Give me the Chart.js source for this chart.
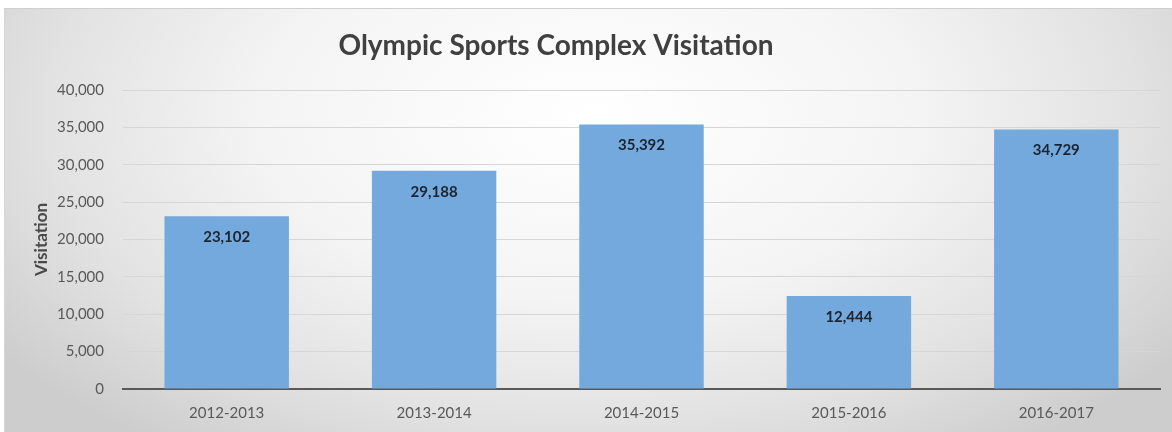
<!DOCTYPE html>
<html>
<head>
<meta charset="utf-8">
<script src="https://cdn.jsdelivr.net/npm/chart.js@4"></script>
<style>
  html, body { margin: 0; padding: 0; background: #ffffff; }
  #frame {
    position: absolute; left: 4px; top: 8px; width: 1172px; height: 430px;
    border-top: 1px solid #cfcfcf; border-left: 1px solid #d6d6d6;
    background: radial-gradient(ellipse 62% 95% at 50% 25%, #ffffff 0%, #f4f4f4 45%, #e2e2e2 75%, #cdcdcd 100%);
  }
  #wrap { position: absolute; left: 0; top: 0; width: 1172px; height: 432px; }
</style>
</head>
<body>
<div id="frame"></div>
<div id="wrap"><canvas id="c" width="1172" height="432"></canvas></div>
<script>
const chartTitle = "Olympic Sports Complex Visitation";
const yAxisTitle = "Visitation";
const categories = ["2012-2013", "2013-2014", "2014-2015", "2015-2016", "2016-2017"];
const visitation = [23102, 29188, 35392, 12444, 34729];
const yMin = 0, yMax = 40000, yStep = 5000;

const FONT = "Lato, 'Open Sans', sans-serif";

const titlePlugin = {
  id: 'customTitle',
  afterDraw(chart) {
    const ctx = chart.ctx;
    ctx.save();
    ctx.font = "bold 28px " + FONT;
    ctx.fillStyle = "#404040";
    ctx.textAlign = "center";
    ctx.textBaseline = "middle";
    ctx.fillText(chartTitle, 556, 46);
    ctx.restore();
  }
};

const labelPlugin = {
  id: 'barLabels',
  afterDatasetsDraw(chart) {
    const ctx = chart.ctx;
    const meta = chart.getDatasetMeta(0);
    ctx.save();
    ctx.font = "bold 15px " + FONT;
    ctx.fillStyle = "#1b2430";
    ctx.textAlign = "center";
    ctx.textBaseline = "middle";
    meta.data.forEach((bar, i) => {
      ctx.fillText(visitation[i].toLocaleString('en-US'), bar.x, bar.y + 21);
    });
    ctx.restore();
  }
};

new Chart(document.getElementById('c'), {
  type: 'bar',
  data: {
    labels: categories,
    datasets: [{
      data: visitation,
      backgroundColor: '#73a9dc',
      borderWidth: 0,
      categoryPercentage: 1,
      barPercentage: 0.6
    }]
  },
  options: {
    responsive: false,
    animation: false,
    devicePixelRatio: 1,
    layout: { padding: { left: 24, right: 12, top: 90, bottom: 0 } },
    plugins: { legend: { display: false }, tooltip: { enabled: false }, title: { display: false } },
    scales: {
      x: {
        grid: { display: false, drawTicks: false },
        border: { display: true, color: '#595959', width: 2 },
        ticks: { color: '#595959', font: { family: FONT, size: 15 }, padding: 15 },
        afterFit(s) { s.height = 432 - 389; }
      },
      y: {
        min: yMin, max: yMax,
        grid: { color: '#d6d6d6', lineWidth: 1, drawTicks: false },
        border: { display: false },
        ticks: {
          stepSize: yStep, color: '#595959', font: { family: FONT, size: 15 }, padding: 19,
          callback: v => v.toLocaleString('en-US')
        },
        title: { display: true, text: yAxisTitle, color: '#4a4a4a', font: { family: FONT, size: 17, weight: 'bold' }, padding: { top: 7, bottom: 0 } },
        afterFit(s) { s.width = 123 - 24; }
      }
    }
  },
  plugins: [titlePlugin, labelPlugin]
});
</script>
</body>
</html>
